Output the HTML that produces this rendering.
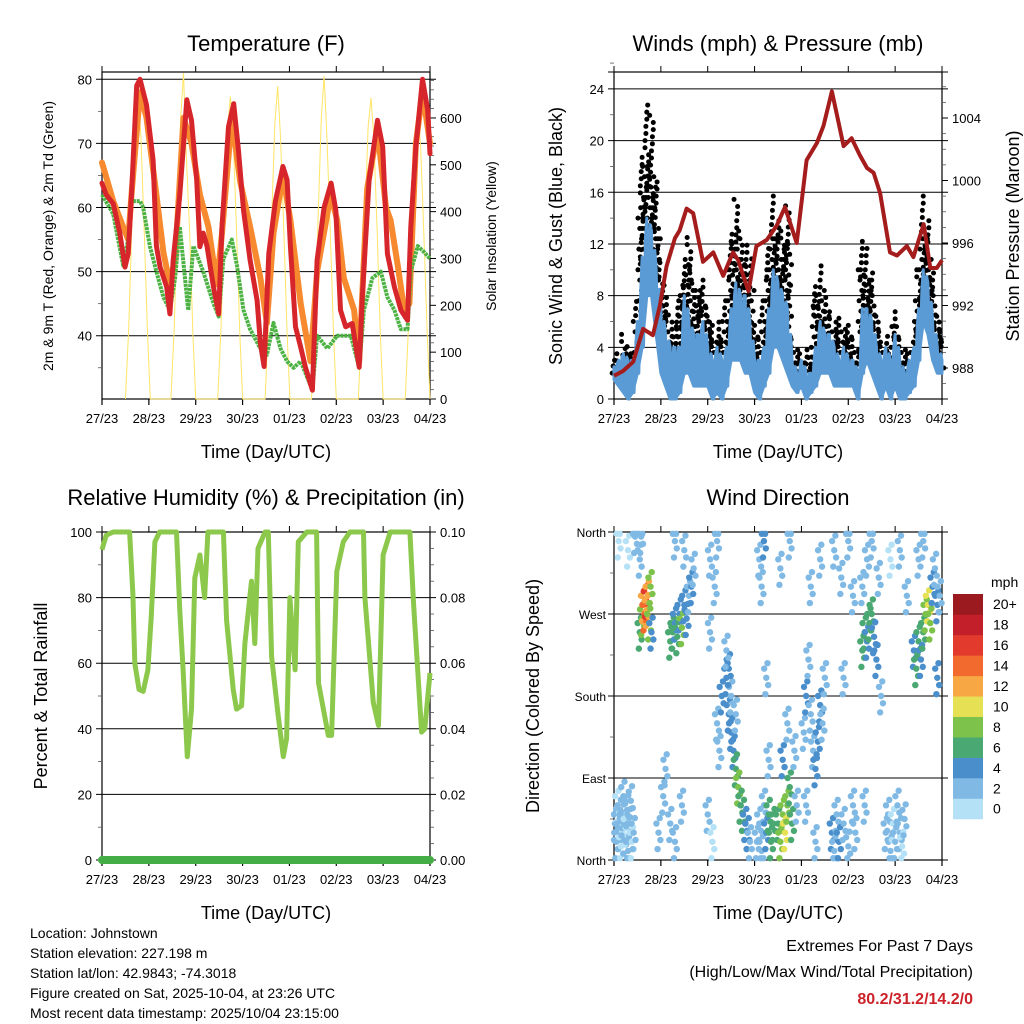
<!DOCTYPE html>
<html><head><meta charset="utf-8">
<style>
html,body{margin:0;padding:0;background:#fff;}
svg{display:block;font-family:"Liberation Sans",sans-serif;}
</style></head>
<body>
<svg id="chart" width="1024" height="1024" viewBox="0 0 1024 1024" xmlns="http://www.w3.org/2000/svg">
<g><text x="266" y="51" font-size="22" text-anchor="middle">Temperature (F)</text></g>
<g><text x="778" y="51" font-size="22" text-anchor="middle">Winds (mph) &amp; Pressure (mb)</text></g>
<g><text x="266" y="505" font-size="22" text-anchor="middle">Relative Humidity (%) &amp; Precipitation (in)</text></g>
<g><text x="778" y="505" font-size="22" text-anchor="middle">Wind Direction</text></g>

<text x="266" y="458" font-size="18" text-anchor="middle">Time (Day/UTC)</text>
<text x="778" y="458" font-size="18" text-anchor="middle">Time (Day/UTC)</text>
<text x="266" y="919" font-size="18" text-anchor="middle">Time (Day/UTC)</text>
<text x="778" y="919" font-size="18" text-anchor="middle">Time (Day/UTC)</text>

<text transform="translate(53,236) rotate(-90)" font-size="14" text-anchor="middle">2m &amp; 9m T (Red, Orange) &amp; 2m Td (Green)</text>
<text transform="translate(496,236) rotate(-90)" font-size="14" text-anchor="middle">Solar Insolation (Yellow)</text>
<text transform="translate(562,236) rotate(-90)" font-size="18" text-anchor="middle">Sonic Wind &amp; Gust (Blue, Black)</text>
<text transform="translate(1019,236) rotate(-90)" font-size="18" text-anchor="middle">Station Pressure (Maroon)</text>
<text transform="translate(47,696) rotate(-90)" font-size="18" text-anchor="middle">Percent &amp; Total Rainfall</text>
<text transform="translate(539,696) rotate(-90)" font-size="18" text-anchor="middle">Direction (Colored By Speed)</text>

<g font-size="14">
<text x="30" y="938">Location: Johnstown</text>
<text x="30" y="958">Station elevation: 227.198 m</text>
<text x="30" y="978">Station lat/lon: 42.9843; -74.3018</text>
<text x="30" y="998">Figure created on Sat, 2025-10-04, at 23:26 UTC</text>
<text x="30" y="1018">Most recent data timestamp: 2025/10/04 23:15:00</text>
</g>
<g text-anchor="end">
<text x="973" y="951" font-size="16">Extremes For Past 7 Days</text>
<text x="973" y="977" font-size="16">(High/Low/Max Wind/Total Precipitation)</text>
<text x="973" y="1004" font-size="16" font-weight="bold" fill="#cc2229">80.2/31.2/14.2/0</text>
</g>
</svg>
<script>
// ---------- data ----------
const dayLabels = ["27/23","28/23","29/23","30/23","01/23","02/23","03/23","04/23"];
const tempTicks = [40,50,60,70,80];
const solarTicks = [0,100,200,300,400,500,600];
const windTicks = [0,4,8,12,16,20,24];
const pressTicks = [988,992,996,1000,1004];
const rhTicks = [0,20,40,60,80,100];
const rainTicks = ["0.00","0.02","0.04","0.06","0.08","0.10"];
const dirLabels = ["North","East","South","West","North"];
const speedLabels = ["0","2","4","6","8","10","12","14","16","18","20+"];
const speedColors = ["#b5e1f7","#80bae4","#4a8fcb","#4aa872","#7dc24b","#e6e055","#f7a845","#f26a2e","#e23b2d","#c21f2a","#9a1a1f"];

const redT = [0,.09,.24,.38,.49,.56,.63,.74,.81,.95,1.09,1.16,1.24,1.38,1.45,1.52,1.66,1.81,1.91,2.02,2.09,2.16,2.24,2.38,2.49,2.56,2.70,2.81,2.91,3.02,3.16,3.31,3.38,3.46,3.56,3.70,3.86,3.95,4.02,4.13,4.24,4.34,4.49,4.59,4.74,4.89,4.99,5.09,5.2,5.34,5.49,5.56,5.7,5.88,5.99,6.09,6.24,6.38,6.52,6.59,6.7,6.84,6.95,7.0];
const redV = [63.8,62,60.6,56,50.7,52.8,62,79,80,76,67.4,54,50.7,47.6,43.4,51.8,62,76.8,73.6,64.3,53.9,56,54,47.6,43.4,57,72.6,76.2,69,59.6,51.8,45.5,38.8,35.2,52.8,61,66.4,64.3,54,41.4,38.2,35.1,31.5,51.8,60,63.8,59.6,44,41.4,41.9,35.1,46.6,64.3,73.6,69.5,52.8,47.6,44,42.4,57,69.5,80,75.2,68.4];
const orT = [0,.24,.45,.56,.63,.81,.95,1.16,1.31,1.45,1.56,1.74,1.91,2.09,2.27,2.45,2.56,2.77,2.95,3.16,3.38,3.52,3.66,3.86,4.02,4.24,4.45,4.59,4.88,5.02,5.16,5.38,5.49,5.66,5.88,6.06,6.16,6.31,6.45,6.56,6.7,6.84,7.0];
const orV = [67,61,57,55,62,78,74,62,53,48,52,74,70,62,57,48,56,74,64,57,49,42,56,65,58,45,36,50,62,58,49,44,36,63,72,60,58,51,44,45,70,78,70];
const tdT = [0,.24,.45,.56,.63,.81,.88,1.02,1.16,1.31,1.45,1.56,1.66,1.84,1.95,2.16,2.38,2.49,2.59,2.77,2.88,3.02,3.16,3.38,3.52,3.66,3.81,3.95,4.09,4.24,4.49,4.59,4.81,5.02,5.16,5.31,5.49,5.59,5.77,5.95,6.09,6.24,6.38,6.52,6.59,6.74,6.88,7.0];
const tdV = [62,59,51,55,61,61,60,54,50,46,44,49,57,44,54,50,45,43,52,55,51,44,41,38,37,42,38,36,35,36,31.5,40,38,40,40,40,35,44,49,50,46,44,41,41,50,54,53,52];
const solT = [.5,.57,.64,.71,.77,.83,.9,.97,1.03, 1.47,1.54,1.61,1.68,1.74,1.8,1.87,1.94,2.0, 2.47,2.54,2.61,2.68,2.74,2.8,2.87,2.94,3.0, 3.48,3.55,3.62,3.69,3.75,3.81,3.88,3.95,4.01, 4.47,4.54,4.61,4.68,4.74,4.8,4.87,4.94,5.0, 5.47,5.54,5.61,5.68,5.74,5.8,5.87,5.94,6.0, 6.47,6.54,6.61,6.68,6.74,6.8,6.87,6.94,7.0];
const solV = [0,150,380,580,653,560,360,140,0, 0,150,390,600,696,520,360,140,0, 0,150,380,580,646,560,360,140,0, 0,150,380,590,668,560,360,140,0, 0,150,380,600,690,560,360,140,0, 0,150,380,580,643,560,360,140,0, 0,150,370,560,625,540,350,140,0];

const windT = [0,.1,.2,.3,.4,.5,.6,.7,.8,.9,1,1.1,1.2,1.3,1.4,1.5,1.6,1.7,1.8,1.9,2,2.1,2.2,2.3,2.4,2.5,2.6,2.7,2.8,2.9,3,3.1,3.2,3.3,3.4,3.5,3.6,3.7,3.8,3.9,4,4.1,4.2,4.3,4.4,4.5,4.6,4.7,4.8,4.9,5,5.1,5.2,5.3,5.4,5.5,5.6,5.7,5.8,5.9,6,6.1,6.2,6.3,6.4,6.5,6.6,6.7,6.8,6.9,7];
const windHi = [2.5,3,3.5,3,3,6,11,14,13,10,7,5,4,4,4,8,6,5,5,6,4,3,4,3,4,7,9,8,8,6,3,3,4,7,10,9,8,7,3,2,3,2,2,4,6,5,5,4,3,4,3,3,2,7,7,6,4,3,4,3,5,3,2,3,4,7,10,9,6,4,3];
const windLo = [1.5,1,.5,0,.5,2,4,8,8,5,2,1,0,0,.5,2,2,1,1,1,1,0,.5,0,1,3,3,3,2,2,.5,0,1,2,4,4,3,2,1,.5,1,0,.5,1,2,2,2,1,1,1,1,1,0,2,3,2,1,0,1,0,1,0,0,.5,1,3,6,5,3,2,2];
const gustHi = [3,4,5,4.5,4,8,19,23,22,17,11,8,6.5,6,8,11,13,9,8.5,9.5,7.5,6,6,5,8,13,15.5,13,12,11,6,5,8,12,16,14,13,15,5,4,4,4,3.5,9,10.5,8,7,6,6.5,5.5,6,5,4,12.5,12,10,7,4.5,5,4,7,5,4,4,6,10,16,14,10,7,5];
const presT = [0,.19,.41,.62,.83,.98,1.12,1.3,1.4,1.55,1.69,1.9,2.12,2.33,2.54,2.65,2.87,3.04,3.26,3.47,3.65,3.9,4.11,4.33,4.47,4.65,4.9,5.07,5.25,5.4,5.54,5.68,5.89,6.04,6.25,6.39,6.61,6.75,6.89,7.0];
const presV = [987.5,987.8,988.4,990.5,990.1,992,994.5,996.3,996.8,998.2,997.9,994.8,995.4,993.9,995.4,994.9,992.9,995.8,996.2,997.1,998.3,996,1001.3,1002.4,1003.5,1005.7,1002.2,1002.7,1001.6,1000.8,1000.5,999.2,995.4,995.2,995.8,995.1,997.2,994.4,994.4,994.9];

const rhT = [0,.09,.24,.59,.66,.70,.79,.88,.98,1.05,1.13,1.23,1.59,1.66,1.73,1.82,1.91,1.98,2.09,2.19,2.26,2.59,2.66,2.8,2.87,2.98,3.05,3.19,3.26,3.33,3.48,3.55,3.62,3.76,3.87,3.94,4.01,4.12,4.19,4.37,4.58,4.62,4.83,4.9,5.01,5.15,5.29,5.58,5.61,5.79,5.9,6.0,6.15,6.57,6.65,6.82,6.89,7.0];
const rhV = [94.6,99,100,100,81,60,52,51.4,58,74,97,100,100,76,58,31.5,46,86,93,80,100,100,73,52,46,47,66,85,66,95,100,100,62,44,31.5,37,80,58,97,100,100,54,38,38,88,97,100,100,80,48,41,93,100,100,78,39,40,57];
const rainT = [0,7];
const rainV = [0,0];

const dirT = [.02,.05,.07,.1,.12,.15,.18,.2,.22,.25,.28,.3,.33,.36,.38,.42,.1,.3,.45,
 .55,.6,.62,.65,.68,.7,.72,.75,.78,.55,.58,.8,
 1.2,1.25,1.3,1.35,1.4,1.45,1.5,1.55,1.6,1.65,1.7,1.3,1.5,1.2,1.3,1.45,1.1,1.05,.95,
 2.0,2.05,2.1,2.15,2.2,2.25,2.3,2.05,2.2,
 2.4,2.45,2.5,2.55,2.6,2.65,2.7,2.75,2.8,2.85,2.5,2.45,2.6,2.9,2.4,
 3.05,3.1,3.15,3.2,3.25,3.3,3.35,3.4,3.1,3.2,3.15,3.3,3.25,
 3.5,3.55,3.6,3.65,3.7,3.75,3.8,3.6,3.7,3.85,3.9,3.55,3.75,
 4.05,4.1,4.15,4.2,4.25,4.3,4.35,4.4,4.45,4.5,4.2,4.4,4.1,4.3,
 4.65,4.7,4.75,4.8,4.9,5.0,5.1,5.15,4.7,4.85,5.0,5.1,4.9,
 5.3,5.35,5.4,5.45,5.5,5.55,5.6,5.3,5.4,5.5,5.65,5.7,5.35,
 5.8,5.85,5.9,5.95,6.0,6.05,6.1,6.15,6.2,5.9,6.1,6.25,
 6.4,6.45,6.5,6.55,6.6,6.65,6.7,6.75,6.8,6.85,6.9,6.95,6.5,6.6,6.9];
const dirD = [40,20,60,30,50,15,45,70,25,35,55,10,40,65,20,30,350,340,355,
 250,265,280,270,285,275,290,260,300,330,355,250,
 240,250,260,245,270,255,280,265,290,300,320,350,340,40,20,60,100,70,30,
 50,330,20,300,150,120,180,250,350,
 200,160,140,120,100,80,60,50,40,30,180,210,160,20,230,
 20,40,10,60,30,50,20,40,330,350,300,110,200,
 40,20,50,30,60,80,40,110,150,120,60,320,350,
 140,180,220,160,120,100,130,170,150,200,300,330,60,20,
 30,10,50,20,40,15,60,30,340,310,350,290,200,
 230,250,240,260,270,245,220,300,330,350,310,180,60,
 30,50,10,40,20,60,30,15,45,330,340,290,
 230,210,240,220,250,270,280,260,300,320,280,290,330,350,200];
const dirS = [2,2,1,3,2,1,2,3,2,1,2,2,3,2,1,2,1,1,2,
 6,8,12,14,16,13,12,9,8,3,2,5,
 6,7,5,7,4,8,5,4,3,4,3,2,3,3,3,2,2,2,2,
 2,3,1,2,2,3,4,2,3,
 4,5,4,5,7,8,7,6,5,4,3,4,3,3,3,
 2,3,2,3,5,7,6,7,3,4,2,3,3,
 6,8,9,10,8,7,6,4,3,3,2,2,3,
 3,4,3,2,3,4,5,4,3,2,2,3,3,2,
 4,3,2,4,3,2,3,2,2,3,2,2,3,
 6,7,5,6,7,5,4,2,2,2,3,3,3,
 2,3,2,1,3,2,2,1,2,1,2,2,
 4,6,7,5,6,9,10,8,5,3,4,3,2,2,4];

// ---------- helpers ----------
const NS = "http://www.w3.org/2000/svg";
const svg = document.getElementById("chart");
function mk(tag, attrs, parent){
  const e = document.createElementNS(NS, tag);
  for (const k in attrs) e.setAttribute(k, attrs[k]);
  (parent || svg).appendChild(e);
  return e;
}
const P1 = {x0:102,x1:430,y0:72,y1:399};
const P2 = {x0:614,x1:942,y0:72,y1:399};
const P3 = {x0:102,x1:430,y0:532,y1:860};
const P4 = {x0:614,x1:942,y0:532,y1:860};
function xs(P,t){ return P.x0 + t*(P.x1-P.x0)/7; }
const yTemp = v => 79.3 + (80-v)*6.41;
const ySol = v => 399 - v*0.4684;
const yWind = v => 399 - v*12.92;
const yPres = p => 368 - (p-988)*15.625;
const yRH = v => 860 - v*3.28;
const yDir = d => 860 - d*328/360;

function frame(P, name){
  const g = mk("g", {});
  
  
  const r = mk("rect", {x:P.x0,y:P.y0,width:P.x1-P.x0,height:P.y1-P.y0,fill:"none",stroke:"#000","stroke-width":1.2}, g);
  
  
  for (let i=0;i<8;i++){
    const x = xs(P,i);
    const tk = mk("line",{x1:x,x2:x,y1:P.y1,y2:P.y1+6,stroke:"#000","stroke-width":1.2}, g);
    
    
    const tt = mk("line",{x1:x,x2:x,y1:P.y0,y2:P.y0-6,stroke:"#000","stroke-width":1}, g);
    
    
    const lb = mk("text",{x:x,y:P.y1+24,"font-size":13,"text-anchor":"middle"}, g);
    lb.textContent = dayLabels[i];
    
    
  }
  return g;
}
function hgrid(P, y, name){
  const l = mk("line",{x1:P.x0-6,x2:P.x1+6,y1:y,y2:y,stroke:"#000","stroke-width":1});
  
  
}
function label(x,y,txt,anchor,name,size){
  const t = mk("text",{x:x,y:y,"font-size":size||13,"text-anchor":anchor});
  t.textContent = txt;
  
  
  return t;
}
function minor(x,y,dir,name){
  const l = mk("line",{x1:x,x2:x+dir*4,y1:y,y2:y,stroke:"#555","stroke-width":0.8});
  
  
}
function pathFrom(T,V,P,yf){
  let d="";
  for (let i=0;i<T.length;i++) d += (i?"L":"M") + xs(P,T[i]).toFixed(1) + "," + yf(V[i]).toFixed(1);
  return d;
}

// ---------- Panel 1: temperature ----------
frame(P1,'temp');
for (const v of tempTicks){ hgrid(P1,yTemp(v),'temp-gridline'); label(P1.x0-10,yTemp(v)+5,String(v),"end",'temp-y-tick-label'); }
for (let v=35; v<=75; v+=10) minor(P1.x0,yTemp(v),-1,'temp-minor-tick');
for (const v of solarTicks){
  const y = ySol(v);
  const tk = mk("line",{x1:P1.x1,x2:P1.x1+6,y1:y,y2:y,stroke:"#000","stroke-width":1});
  
  
  label(P1.x1+10,y+5,String(v),"start",'solar-y-tick-label');
}
for (let v=20; v<=680; v+=20) if (v%100) minor(P1.x1,ySol(v),1,'solar-minor-tick');
const sol = mk("path",{d:pathFrom(solT,solV,P1,ySol),fill:"none",stroke:"#ffe566","stroke-width":1});


const tor = mk("path",{d:pathFrom(orT,orV,P1,yTemp),fill:"none",stroke:"#f7892f","stroke-width":6,"stroke-linejoin":"round","stroke-linecap":"round"});


const ttd = mk("path",{d:pathFrom(tdT,tdV,P1,yTemp),fill:"none",stroke:"#4db244","stroke-width":4,"stroke-linejoin":"round","stroke-dasharray":"3 0.8"});


const tred = mk("path",{d:pathFrom(redT,redV,P1,yTemp),fill:"none",stroke:"#d7262b","stroke-width":5,"stroke-linejoin":"round","stroke-linecap":"round"});



// ---------- Panel 2: winds ----------
frame(P2,'wind');
for (const v of windTicks){ hgrid(P2,yWind(v),'wind-gridline'); label(P2.x0-10,yWind(v)+5,String(v),"end",'wind-y-tick-label'); }
hgrid(P2,P2.y0,'wind-top-line');
for (let v=2; v<=26; v+=4) minor(P2.x0,yWind(v),-1,'wind-minor-tick');
for (const p of pressTicks){
  const y = yPres(p);
  const tk = mk("line",{x1:P2.x1,x2:P2.x1+6,y1:y,y2:y,stroke:"#000","stroke-width":1});
  
  
  label(P2.x1+10,y+5,String(p),"start",'pressure-y-tick-label');
}
for (let p=987; p<=1006; p++) if (p%4) minor(P2.x1,yPres(p),1,'pressure-minor-tick');
const gustG = mk("g",{});


function gustColumn(t, lo, hi, step){
  const x = xs(P2,t);
  for (let v=lo; v<=hi+0.01; v+=step){
    const c = mk("circle",{cx:x + ((Math.round(v*10))%5-2)*0.9,cy:yWind(v),r:2.5,fill:"#000"},gustG);
    
    
  }
}
for (let i=0;i<windT.length;i++){
  gustColumn(windT[i], windHi[i]*0.8, gustHi[i], 0.55);
  if (i < windT.length-1){
    const m = Math.max(gustHi[i],gustHi[i+1])*0.8;
    gustColumn((windT[i]+windT[i+1])/2, (windHi[i]+windHi[i+1])/2*0.8, m, 0.8);
  }
}
// jagged sonic wind line between low and high values
let bd = "";
for (let i=0;i<windT.length;i++){
  const x = xs(P2,windT[i]);
  bd += (i?"L":"M") + x.toFixed(1)+","+yWind(windHi[i]).toFixed(1);
  if (i < windT.length-1){
    const xm = (x + xs(P2,windT[i+1]))/2;
    bd += "L" + (xm-1).toFixed(1)+","+yWind(windLo[i]).toFixed(1);
    bd += "L" + (xm+1).toFixed(1)+","+yWind((windHi[i]+windHi[i+1])/2).toFixed(1);
  }
}
for (let i=windT.length-1;i>=0;i--) bd += "L" + xs(P2,windT[i]).toFixed(1)+","+yWind(windLo[i]).toFixed(1);
bd += "Z";
const band = mk("path",{d:bd,fill:"#5b9bd5",stroke:"#5b9bd5","stroke-width":3,"stroke-linejoin":"round"});


const pres = mk("path",{d:pathFrom(presT,presV,P2,yPres),fill:"none",stroke:"#a51c1c","stroke-width":4,"stroke-linejoin":"round"});



// ---------- Panel 3: RH ----------
frame(P3,'rh');
rhTicks.forEach((v,i)=>{
  hgrid(P3,yRH(v),'rh-gridline');
  label(P3.x0-10,yRH(v)+5,String(v),"end",'rh-y-tick-label');
  label(P3.x1+10,yRH(v)+5,rainTicks[i],"start",'rain-y-tick-label');
});
for (let v=10; v<=90; v+=20){ minor(P3.x0,yRH(v),-1,'rh-minor-tick'); }
for (let v=5; v<=95; v+=5) if (v%20) minor(P3.x1,yRH(v),1,'rain-minor-tick');
const rh = mk("path",{d:pathFrom(rhT,rhV,P3,yRH),fill:"none",stroke:"#8cc84b","stroke-width":5,"stroke-linejoin":"round"});


const rain = mk("path",{d:pathFrom(rainT,rainV,P3,v=>860-v*3280),fill:"none",stroke:"#45ad45","stroke-width":8,"stroke-linecap":"round"});



// ---------- Panel 4: wind direction ----------
frame(P4,'dir');
dirLabels.forEach((s,i)=>{
  const y = yDir(i*90);
  hgrid(P4,y,'dir-gridline');
  label(P4.x0-8,y+5,s,"end",'dir-y-tick-label',12);
});
for (let d=45; d<360; d+=90) minor(P4.x0,yDir(d),-1,'dir-minor-tick');
const dg = mk("g",{});


const satDt = [0,-0.045,0.04,-0.02,0.025];
const satDd = [0,10,-8,-18,16];
for (let i=0;i<dirT.length;i++){
  const ci = Math.min(10, Math.floor(dirS[i]/2));
  for (let k=0;k<satDt.length;k++){
    const d = Math.max(2, Math.min(358, dirD[i] + satDd[k]));
    const c = mk("circle",{cx:xs(P4,Math.min(7,Math.max(0,dirT[i]+satDt[k]))),cy:yDir(d),r:3.2,fill:speedColors[ci]},dg);
    
    
  }
}
// colorbar
const cb = mk("g",{});


const cbTop = 594, boxH = 20.45;
for (let i=0;i<11;i++){
  const y = cbTop + (10-i)*boxH;
  const r = mk("rect",{x:953,y:y,width:30,height:boxH+0.3,fill:speedColors[i]},cb);
  
  
  const t = mk("text",{x:993,y:y+boxH/2+5,"font-size":14},cb);
  t.textContent = speedLabels[i];
  
  
}
const cbt = mk("text",{x:991,y:587,"font-size":14},cb);
cbt.textContent = "mph";


</script>
</body></html>
